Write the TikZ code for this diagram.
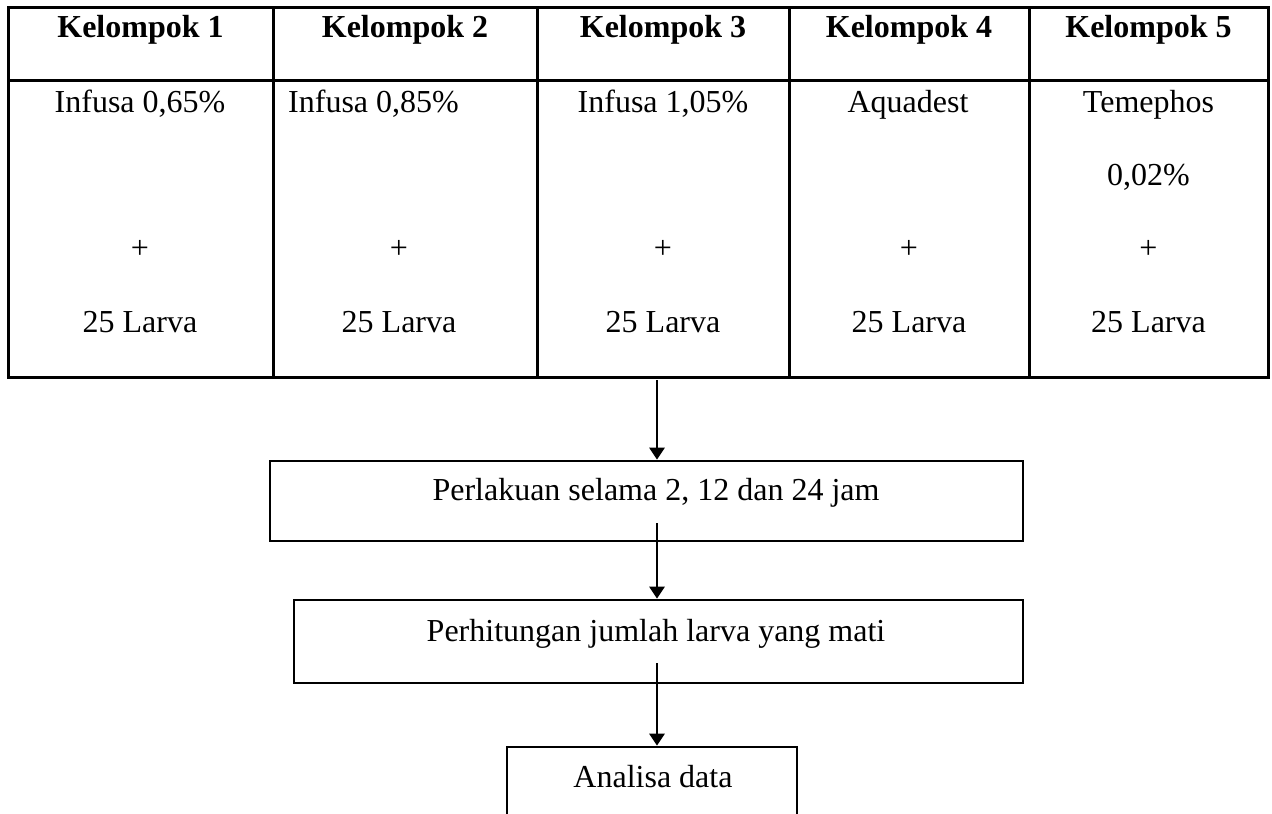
\documentclass[tikz,border=0pt]{standalone}
\usepackage{fontspec}
\setmainfont{Liberation Serif}
\usetikzlibrary{arrows.meta}
\begin{document}
\begin{tikzpicture}[x=1pt,y=-1pt,
  every node/.style={font=\fontsize{32}{38}\selectfont, inner sep=0pt},
  hdr/.style={anchor=base, font=\fontsize{32}{38}\selectfont\bfseries},
  cell/.style={anchor=base},
  tline/.style={line width=3pt},
  flowbox/.style={draw, line width=2.6pt, rectangle, inner sep=0pt},
  arr/.style={line width=2.6pt, -{Triangle[length=12pt,width=15pt]}}
]
\useasboundingbox (0,0) rectangle (1272,814);
\fill[white] (0,0) rectangle (1272,814);

% table grid
\draw[tline] (8,7) rectangle (1268,377);
\draw[tline] (8,80) -- (1268,80);
\foreach \x in {273,537,789,1029} \draw[tline] (\x,7) -- (\x,377);

% header
\node[hdr] (h1) at (140.5,37) {Kelompok 1};
\node[hdr] (h2) at (405,37) {Kelompok 2};
\node[hdr] (h3) at (663,37) {Kelompok 3};
\node[hdr] (h4) at (909,37) {Kelompok 4};
\node[hdr] (h5) at (1148.5,37) {Kelompok 5};

% row contents
\node[cell] (c1a) at (140,112) {Infusa 0,65\%};
\node[cell, anchor=base west] (c2a) at (288,112) {Infusa 0,85\%};
\node[cell] (c3a) at (663,112) {Infusa 1,05\%};
\node[cell] (c4a) at (908,112) {Aquadest};
\node[cell] (c5a) at (1148.5,112) {Temephos};
\node[cell] (c5b) at (1148.5,185) {0,02\%};

\foreach \n/\x in {1/140,2/399,3/663,4/909,5/1148.5}{
  \node[cell] (p\n) at (\x,258) {+};
  \node[cell] (l\n) at (\x,332) {25 Larva};
}

% flow boxes
\node[flowbox, minimum width=753pt, minimum height=80pt] (b1) at (646.5,501) {};
\node[anchor=base] (t1) at (656,500) {Perlakuan selama 2, 12 dan 24 jam};
\node[flowbox, minimum width=729pt, minimum height=83pt] (b2) at (658.5,641.5) {};
\node[anchor=base] (t2) at (656,641) {Perhitungan jumlah larva yang mati};
\node[flowbox, minimum width=290pt, minimum height=100pt] (b3) at (652,797) {};
\node[anchor=base] (t3) at (653,787) {Analisa data};

% arrows
\coordinate (s1) at (657,380);
\coordinate (s2) at (657,523);
\coordinate (s3) at (657,663);
\draw[arr] (s1) -- (s1 |- b1.north);
\draw[arr] (s2) -- (s2 |- b2.north);
\draw[arr] (s3) -- (s3 |- b3.north);
\end{tikzpicture}
\end{document}
